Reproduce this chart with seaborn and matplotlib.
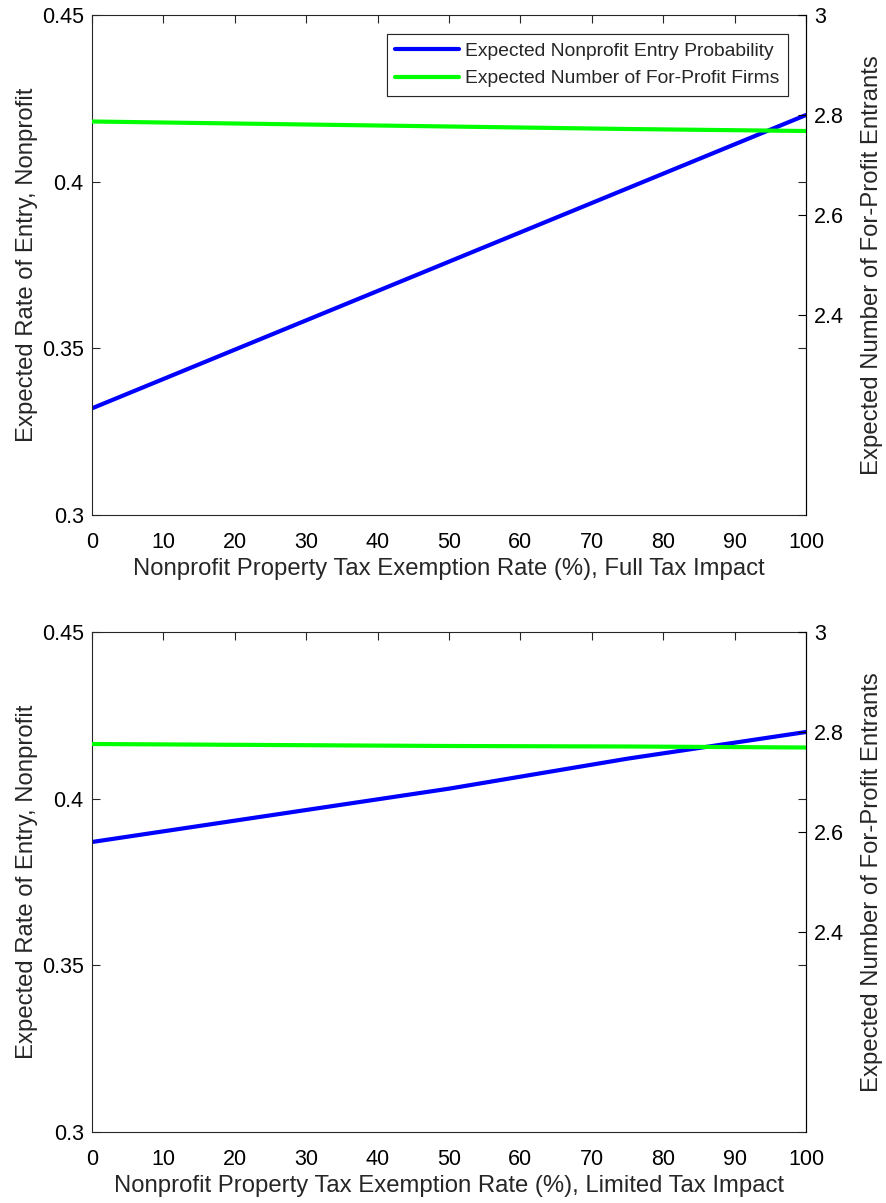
import numpy as np
import pandas as pd
import matplotlib
matplotlib.use("Agg")
import matplotlib.pyplot as plt
import seaborn as sns

# exemption rate (%) at which values were read
exemption = [0, 25, 50, 75, 100]

# full tax impact panel
full_nonprofit = [0.332, 0.354, 0.376, 0.398, 0.420]
full_forprofit = [2.787, 2.782, 2.777, 2.772, 2.768]

# limited tax impact panel
limited_nonprofit = [0.387, 0.395, 0.403, 0.412, 0.420]
limited_forprofit = [2.776, 2.774, 2.772, 2.771, 2.769]

x_ticks = list(range(0, 101, 10))
left_ticks = [0.3, 0.35, 0.4, 0.45]
left_ticklabels = ["0.3", "0.35", "0.4", "0.45"]
right_ticks = [2.4, 2.6, 2.8, 3.0]
right_ticklabels = ["2.4", "2.6", "2.8", "3"]

panel_xlabels = [
    "Nonprofit Property Tax Exemption Rate (%), Full Tax Impact",
    "Nonprofit Property Tax Exemption Rate (%), Limited Tax Impact",
]
left_label = "Expected Rate of Entry, Nonprofit"
right_label = "Expected Number of For-Profit Entrants"
legend_labels = ["Expected Nonprofit Entry Probability",
                 "Expected Number of For-Profit Firms"]

sns.set_style("white")
plt.rcParams["font.family"] = ["Liberation Sans", "DejaVu Sans"]

W, H = 886, 1203
fig = plt.figure(figsize=(W / 100, H / 100), dpi=100)

GRAY = "#262626"
TICK_FS = 15.5
LABEL_FS = 17.2
LEG_FS = 13.9


def draw_panel(top_px, nonprofit, forprofit, xlabel):
    left, right, bottom = 92, 806, top_px + 500
    ax = fig.add_axes([left / W, 1 - bottom / H, (right - left) / W, 500 / H])
    ax2 = ax.twinx()

    df = pd.DataFrame({"rate": exemption, "np": nonprofit, "fp": forprofit})
    sns.lineplot(data=df, x="rate", y="np", ax=ax, color=(0, 0, 1),
                 linewidth=3.0, label=legend_labels[0])
    sns.lineplot(data=df, x="rate", y="fp", ax=ax2, color=(0, 1, 0),
                 linewidth=3.0, label=legend_labels[1])

    ax.set_xlim(0, 100)
    ax.set_ylim(0.3, 0.45)
    ax2.set_ylim(2.0, 3.0)
    ax.set_xticks(x_ticks)
    ax.set_xticklabels([str(t) for t in x_ticks])
    ax.set_yticks(left_ticks)
    ax.set_yticklabels(left_ticklabels)
    ax2.set_yticks(right_ticks)
    ax2.set_yticklabels(right_ticklabels)

    ax.tick_params(direction="in", length=6, width=0.8, colors=GRAY,
                   labelcolor="black", labelsize=TICK_FS, top=True,
                   right=True, labelright=False, pad=6)
    ax.tick_params(axis="x", pad=12)
    ax2.tick_params(direction="in", length=6, width=0.8, colors="black",
                    labelsize=TICK_FS, pad=6)
    for s in ax.spines.values():
        s.set_color(GRAY)
        s.set_linewidth(0.8)
    for s in ax2.spines.values():
        s.set_visible(False)
    ax2.spines["right"].set_visible(True)
    ax2.spines["right"].set_color("black")
    ax2.spines["right"].set_linewidth(0.8)

    ax.set_xlabel(xlabel, fontsize=LABEL_FS, labelpad=4)
    ax.set_ylabel(left_label, fontsize=LABEL_FS, labelpad=3)
    ax2.set_ylabel(right_label, fontsize=LABEL_FS, labelpad=12)

    h1, _ = ax.get_legend_handles_labels()
    h2, _ = ax2.get_legend_handles_labels()
    ax.get_legend().remove()
    leg = ax2.legend(h1 + h2, legend_labels, loc="upper right",
                     bbox_to_anchor=((788 - left) / 714, (bottom - 34) / 500),
                     fontsize=LEG_FS, fancybox=False, framealpha=1,
                     edgecolor=GRAY, handlelength=3.3, handletextpad=0.3,
                     borderpad=0.45, labelspacing=0.5, borderaxespad=0)
    leg.get_frame().set_linewidth(0.8)


draw_panel(15, full_nonprofit, full_forprofit, panel_xlabels[0])
draw_panel(632, limited_nonprofit, limited_forprofit, panel_xlabels[1])

fig.savefig("out.png", dpi=100)
plt.close(fig)
